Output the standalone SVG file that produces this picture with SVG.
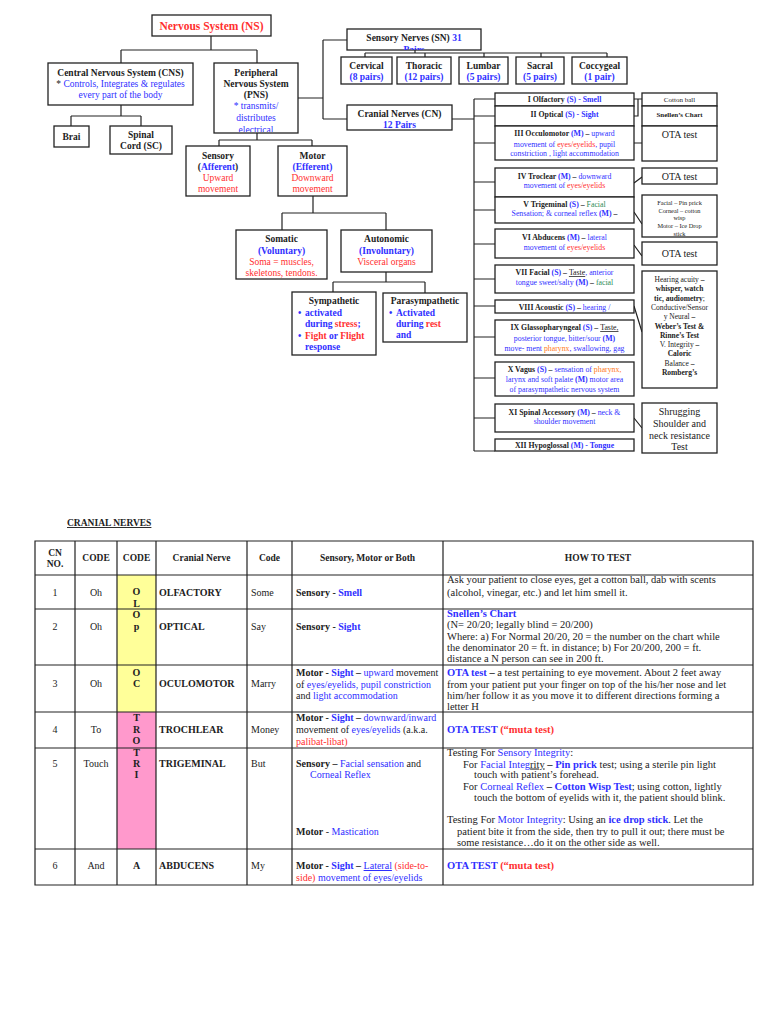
<svg xmlns="http://www.w3.org/2000/svg" width="768" height="1024" viewBox="0 0 768 1024">
<style>
text{font-family:"Liberation Serif","Times New Roman",serif;fill:#222}
.box{fill:#fff;stroke:#222;stroke-width:1.3}
.ln{fill:none;stroke:#222;stroke-width:1.2}
.tl{fill:none;stroke:#222;stroke-width:1.2}
.c{text-anchor:middle}
.b{font-weight:bold}
.f95{font-size:9.5px}
.f7{font-size:7px}
.f78{font-size:7.8px}
.f75{font-size:7.5px}
.f65{font-size:6.3px}
.f10{font-size:10px}
.f105{font-size:10.5px}
.bl{fill:#2f2fff}
.rd{fill:#ff2f2f}
.gr{fill:#2e8b57}
.or{fill:#ff7a1a}
.bk{fill:#222}
</style>
<defs>
<clipPath id="cpSN"><rect x="347" y="29" width="134" height="21"/></clipPath>
<clipPath id="cpPNS"><rect x="214" y="63" width="84" height="69"/></clipPath>
<clipPath id="cpSen"><rect x="186" y="146" width="64" height="49"/></clipPath>
<clipPath id="cpMot"><rect x="278" y="146" width="69" height="49"/></clipPath>
<clipPath id="cpV"><rect x="495" y="197" width="139" height="25"/></clipPath>
<clipPath id="cpVt"><rect x="642" y="195" width="75" height="41"/></clipPath>
</defs>
<rect width="768" height="1024" fill="#fff"/>

<g id="connectors">
<path class="ln" d="M211,36V50M121,50H257M121,50V63M257,50V63"/>
<path class="ln" d="M121,105V116M71,116H141M71,116V126M141,116V126"/>
<path class="ln" d="M298,98H323M323,40V119M323,40H347M323,119H347"/>
<path class="ln" d="M257,133V140M219,140H312M219,140V146M312,140V146"/>
<path class="ln" d="M313,196V213M282,213H386M282,213V230M386,213V230"/>
<path class="ln" d="M386,272V282M333,282H425M333,282V292M425,282V293"/>
<path class="ln" d="M415,50V53M365,53H607M365,53V57M425,53V57M484,53V57M541,53V57M607,53V57"/>
<path class="ln" d="M452,119H474M474,99V451M474,99H495M474,116H495M474,143H495M474,182H495M474,210H495M474,244H495M474,279H495M474,306H495M474,337H495M474,378H495M474,418H495M474,451H495"/>
<path class="ln" d="M634,99H642M634,116H638V99M634,143H642M634,183L642,177M634,212L642,224M634,245L642,256M634,306L642,332M634,418L642,428"/>
</g>

<g id="ns"><rect class="box" x="152" y="15" width="119" height="21"/><text class="c b rd" x="211.5" y="29.5" font-size="11.5">Nervous System (NS)</text></g>
<g id="cns"><rect class="box" x="48" y="63" width="145" height="42"/>
<text class="c f95" x="120.5" y="76"><tspan class="b">Central Nervous System (CNS)</tspan></text>
<text class="c f95" x="120.5" y="87"><tspan>* </tspan><tspan class="bl">Controls, Integrates &amp; regulates</tspan></text>
<text class="c f95 bl" x="120.5" y="98">every part of the body</text></g>
<g id="brai"><rect class="box" x="54" y="126" width="35" height="21"/><text class="c b f95" x="71.5" y="139.5">Brai</text></g>
<g id="spinal"><rect class="box" x="110" y="126" width="62" height="28"/><text class="c b f95" x="141" y="138">Spinal</text><text class="c b f95" x="141" y="149">Cord (SC)</text></g>
<g id="pns"><rect class="box" x="214" y="63" width="84" height="70"/>
<g clip-path="url(#cpPNS)">
<text class="c b f95" x="256" y="76">Peripheral</text>
<text class="c b f95" x="256" y="87">Nervous System</text>
<text class="c b f95" x="256" y="98">(PNS)</text>
<text class="c f95 bl" x="256" y="109">*  transmits/</text>
<text class="c f95 bl" x="256" y="121">distributes</text>
<text class="c f95 bl" x="256" y="132.5">electrical</text></g></g>
<g id="sensory"><rect class="box" x="186" y="146" width="64" height="50"/>
<g clip-path="url(#cpSen)">
<text class="c b f95" x="218" y="159">Sensory</text>
<text class="c b f95" x="218" y="170"><tspan class="bk">(</tspan><tspan class="bl">Afferent</tspan><tspan class="bk">)</tspan></text>
<text class="c f95 rd" x="218" y="181">Upward</text>
<text class="c f95 rd" x="218" y="192">movement</text></g></g>
<g id="motor"><rect class="box" x="278" y="146" width="69" height="50"/>
<g clip-path="url(#cpMot)">
<text class="c b f95" x="312.5" y="159">Motor</text>
<text class="c b f95 bl" x="312.5" y="170">(Efferent)</text>
<text class="c f95 rd" x="312.5" y="181">Downward</text>
<text class="c f95 rd" x="312.5" y="192">movement</text></g></g>
<g id="somatic"><rect class="box" x="236" y="230" width="91" height="49"/>
<text class="c b f95" x="281.5" y="242">Somatic</text>
<text class="c b f95 bl" x="281.5" y="254">(Voluntary)</text>
<text class="c f95 rd" x="281.5" y="265">Soma = muscles,</text>
<text class="c f95 rd" x="281.5" y="276">skeletons, tendons.</text></g>
<g id="autonomic"><rect class="box" x="341" y="230" width="91" height="42"/>
<text class="c b f95" x="386.5" y="242">Autonomic</text>
<text class="c b f95 bl" x="386.5" y="254">(Involuntary)</text>
<text class="c f95 rd" x="386.5" y="265">Visceral organs</text></g>
<g id="sympathetic"><rect class="box" x="292" y="292" width="84" height="63"/>
<text class="c b f95" x="334" y="304">Sympathetic</text>
<text class="b f95 bl" x="298" y="316">•</text><text class="b f95 bl" x="305" y="316">activated</text>
<text class="b f95" x="305" y="327"><tspan class="bl">during </tspan><tspan class="rd">stress</tspan><tspan class="bl">;</tspan></text>
<text class="b f95 bl" x="298" y="339">•</text><text class="b f95" x="305" y="339"><tspan class="rd">Fight </tspan><tspan class="bl">or </tspan><tspan class="rd">Flight</tspan></text>
<text class="b f95 bl" x="305" y="350">response</text></g>
<g id="parasympathetic"><rect class="box" x="383" y="293" width="84" height="49"/>
<text class="c b f95" x="425" y="304">Parasympathetic</text>
<text class="b f95 bl" x="389" y="316">•</text><text class="b f95 bl" x="396" y="316">Activated</text>
<text class="b f95" x="396" y="327"><tspan class="bl">during </tspan><tspan class="rd">rest</tspan></text>
<text class="b f95 bl" x="396" y="338">and</text></g>

<g id="sn"><rect class="box" x="347" y="29" width="134" height="21"/>
<g clip-path="url(#cpSN)"><text class="c b f95" x="414" y="41"><tspan>Sensory Nerves (SN) </tspan><tspan class="bl">31</tspan></text>
<text class="c b f95 bl" x="414" y="52.5">Pairs</text></g></g>
<g id="cervical"><rect class="box" x="341" y="57" width="51" height="27"/><text class="c b f95" x="366.5" y="69">Cervical</text><text class="c b f95 bl" x="366.5" y="80">(8 pairs)</text></g>
<g id="thoracic"><rect class="box" x="397" y="57" width="54" height="27"/><text class="c b f95" x="424" y="69">Thoracic</text><text class="c b f95 bl" x="424" y="80">(12 pairs)</text></g>
<g id="lumbar"><rect class="box" x="459" y="57" width="49" height="27"/><text class="c b f95" x="483.5" y="69">Lumbar</text><text class="c b f95 bl" x="483.5" y="80">(5 pairs)</text></g>
<g id="sacral"><rect class="box" x="516" y="57" width="48" height="27"/><text class="c b f95" x="540" y="69">Sacral</text><text class="c b f95 bl" x="540" y="80">(5 pairs)</text></g>
<g id="coccygeal"><rect class="box" x="572" y="57" width="55" height="27"/><text class="c b f95" x="599.5" y="69">Coccygeal</text><text class="c b f95 bl" x="599.5" y="80">(1 pair)</text></g>
<g id="cn"><rect class="box" x="347" y="105" width="105" height="25"/><text class="c b f95" x="399.5" y="117">Cranial Nerves (CN)</text><text class="c b f95 bl" x="399.5" y="128">12 Pairs</text></g>

<g id="cn1"><rect class="box" x="495" y="93" width="139" height="13"/><text class="c f78" x="564.5" y="102.3"><tspan class="b">I   Olfactory </tspan><tspan class="b bl">(S) - Smell</tspan></text></g>
<g id="cn2"><rect class="box" x="495" y="106" width="139" height="20"/><text class="c f78" x="564.5" y="116.5"><tspan class="b">II   Optical </tspan><tspan class="b bl">(S) - Sight</tspan></text></g>
<g id="cn3"><rect class="box" x="495" y="126" width="139" height="34"/>
<text class="c f78" x="564.5" y="136"><tspan class="b">III  Occulomotor </tspan><tspan class="b bl">(M)</tspan><tspan class="b"> – </tspan><tspan class="bl">upward</tspan></text>
<text class="c f78" x="564.5" y="146.5"><tspan class="bl">movement of </tspan><tspan class="rd">eyes/eyelids</tspan><tspan class="bl">, pupil</tspan></text>
<text class="c f78 bl" x="564.5" y="156">constriction , light accommodation</text></g>
<g id="cn4"><rect class="box" x="495" y="168" width="139" height="29"/>
<text class="c f78" x="564.5" y="178.5"><tspan class="b">IV  Troclear </tspan><tspan class="b bl">(M)</tspan><tspan class="b"> – </tspan><tspan class="bl">downward</tspan></text>
<text class="c f78" x="564.5" y="188"><tspan class="bl">movement of </tspan><tspan class="rd">eyes/eyelids</tspan></text></g>
<g id="cn5"><rect class="box" x="495" y="197" width="139" height="26"/>
<g clip-path="url(#cpV)">
<text class="c f78" x="564.5" y="206.5"><tspan class="b">V  Trigeminal </tspan><tspan class="b bl">(S)</tspan><tspan class="b"> – </tspan><tspan class="gr">Facial</tspan></text>
<text class="c f78" x="564.5" y="216"><tspan class="bl">Sensation; &amp; corneal reflex </tspan><tspan class="b bl">(M)</tspan><tspan class="b"> –</tspan></text></g></g>
<g id="cn6"><rect class="box" x="495" y="229" width="139" height="29"/>
<text class="c f78" x="564.5" y="240"><tspan class="b">VI  Abducens </tspan><tspan class="b bl">(M)</tspan><tspan class="b"> – </tspan><tspan class="bl">lateral</tspan></text>
<text class="c f78" x="564.5" y="249.5"><tspan class="bl">movement of </tspan><tspan class="rd">eyes/eyelids</tspan></text></g>
<g id="cn7"><rect class="box" x="495" y="265" width="139" height="28"/>
<text class="c f78" x="564.5" y="275"><tspan class="b">VII  Facial </tspan><tspan class="b bl">(S)</tspan><tspan class="b"> – </tspan><tspan text-decoration="underline">Taste</tspan><tspan class="bl">, anterior</tspan></text>
<text class="c f78" x="564.5" y="285"><tspan class="bl">tongue sweet/salty </tspan><tspan class="b bl">(M)</tspan><tspan class="b"> – </tspan><tspan class="gr">facial</tspan></text></g>
<g id="cn8"><rect class="box" x="495" y="300" width="139" height="13"/>
<text class="c f78" x="564.5" y="309.5"><tspan class="b">VIII  Acoustic </tspan><tspan class="b bl">(S)</tspan><tspan class="b"> – </tspan><tspan class="bl">hearing /</tspan></text></g>
<g id="cn9"><rect class="box" x="495" y="320" width="139" height="35"/>
<text class="c f78" x="564.5" y="330"><tspan class="b">IX  Glassopharyngeal </tspan><tspan class="b bl">(S)</tspan><tspan class="b"> – </tspan><tspan text-decoration="underline">Taste,</tspan></text>
<text class="c f78" x="564.5" y="340.5"><tspan class="bl">posterior tongue, bitter/sour </tspan><tspan class="b bl">(M)</tspan></text>
<text class="c f78" x="564.5" y="351"><tspan class="bl">move- ment </tspan><tspan class="or">pharynx</tspan><tspan class="bl">, swallowing, gag</tspan></text></g>
<g id="cn10"><rect class="box" x="495" y="362" width="139" height="34"/>
<text class="c f78" x="564.5" y="371.5"><tspan class="b">X  Vagus </tspan><tspan class="b bl">(S)</tspan><tspan class="b"> – </tspan><tspan class="bl">sensation of </tspan><tspan class="or">pharynx,</tspan></text>
<text class="c f78" x="564.5" y="381.5"><tspan class="bl">larynx and soft palate </tspan><tspan class="b bl">(M)</tspan><tspan class="bl"> motor area</tspan></text>
<text class="c f78 bl" x="564.5" y="391.5">of parasympathetic nervous system</text></g>
<g id="cn11"><rect class="box" x="495" y="404" width="139" height="28"/>
<text class="c f78" x="564.5" y="414.5"><tspan class="b">XI   Spinal Accessory </tspan><tspan class="b bl">(M)</tspan><tspan class="b"> – </tspan><tspan class="bl">neck &amp;</tspan></text>
<text class="c f78 bl" x="564.5" y="424">shoulder movement</text></g>
<g id="cn12"><rect class="box" x="495" y="439" width="139" height="12"/>
<text class="c f78" x="564.5" y="447.8"><tspan class="b">XII  Hypoglossal </tspan><tspan class="b bl">(M) - Tongue</tspan></text></g>

<g id="t1"><rect class="box" x="642" y="93" width="75" height="13"/><text class="c f7" x="679.5" y="102">Cotton ball</text></g>
<g id="t2"><rect class="box" x="642" y="106" width="75" height="20"/><text class="c f7 b" x="679.5" y="116.5">Snellen’s Chart</text></g>
<g id="t3"><rect class="box" x="642" y="126" width="75" height="35"/><text class="c f10" x="679.5" y="138">OTA test</text></g>
<g id="t4"><rect class="box" x="642" y="168" width="75" height="16"/><text class="c f10" x="679.5" y="179.5">OTA test</text></g>
<g id="t5"><rect class="box" x="642" y="195" width="75" height="42"/>
<g clip-path="url(#cpVt)">
<text class="c f65" x="679.5" y="205">Facial – Pin prick</text>
<text class="c f65" x="679.5" y="212.5">Corneal – cotton</text>
<text class="c f65" x="679.5" y="220">wisp</text>
<text class="c f65" x="679.5" y="227.5">Motor – Ice Drop</text>
<text class="c f65" x="679.5" y="235.5">stick</text></g></g>
<g id="t6"><rect class="box" x="642" y="242" width="75" height="23"/><text class="c f10" x="679.5" y="257">OTA test</text></g>
<g id="t8"><rect class="box" x="642" y="271" width="75" height="117"/>
<text class="c f75" x="679.5" y="282">Hearing acuity <tspan class="b">–</tspan></text>
<text class="c f75 b" x="679.5" y="291.3">whisper, watch</text>
<text class="c f75" x="679.5" y="300.6"><tspan class="b">tic, audiometry</tspan>;</text>
<text class="c f75" x="679.5" y="309.9">Conductive/Sensor</text>
<text class="c f75" x="679.5" y="319.2">y Neural <tspan class="b">–</tspan></text>
<text class="c f75 b" x="679.5" y="328.5">Weber’s Test &amp;</text>
<text class="c f75 b" x="679.5" y="337.8">Rinne’s Test</text>
<text class="c f75" x="679.5" y="347.1">V. Integrity <tspan class="b">–</tspan></text>
<text class="c f75 b" x="679.5" y="356.4">Caloric</text>
<text class="c f75" x="679.5" y="365.7">Balance <tspan class="b">–</tspan></text>
<text class="c f75 b" x="679.5" y="375">Romberg’s</text></g>
<g id="t11"><rect class="box" x="642" y="403" width="75" height="50"/>
<text class="c f10" x="679.5" y="414.5">Shrugging</text>
<text class="c f10" x="679.5" y="426.5">Shoulder and</text>
<text class="c f10" x="679.5" y="439">neck resistance</text>
<text class="c f10" x="679.5" y="449.5">Test</text></g>

<g id="table">
<text class="b" x="67" y="526" font-size="9.5" text-decoration="underline">CRANIAL NERVES</text>
<rect x="117" y="575" width="39" height="137" fill="#ffff99"/>
<rect x="117" y="712" width="39" height="137" fill="#ff99cc"/>
<path class="tl" d="M35,541H753V885H35ZM35,575H753M35,609H753M35,665H753M35,712H753M35,748H753M35,849H753M75,541V885M117,541V885M156,541V885M247,541V885M292,541V885M443,541V885"/>
<g class="f95 b">
<text class="c" x="55" y="556">CN</text><text class="c" x="55" y="567">NO.</text>
<text class="c" x="96" y="561">CODE</text><text class="c" x="136.5" y="561">CODE</text>
<text class="c" x="201.5" y="561">Cranial Nerve</text><text class="c" x="269.5" y="561">Code</text>
<text class="c" x="367.5" y="561">Sensory, Motor or Both</text><text class="c" x="598" y="561">HOW TO TEST</text>
</g>
<g class="f10">
<text class="c" x="55" y="596">1</text><text class="c" x="96" y="596">Oh</text>
<text class="c b" x="136.5" y="595">O</text><text class="c b" x="136.5" y="607">L</text>
<text class="b" x="159" y="596">OLFACTORY</text><text x="251" y="596">Some</text>
<text x="296" y="596"><tspan class="b">Sensory - </tspan><tspan class="b bl">Smell</tspan></text>

<text class="c" x="55" y="630">2</text><text class="c" x="96" y="630">Oh</text>
<text class="c b" x="136.5" y="618">O</text><text class="c b" x="136.5" y="630">p</text>
<text class="b" x="159" y="630">OPTICAL</text><text x="251" y="630">Say</text>
<text x="296" y="630"><tspan class="b">Sensory - </tspan><tspan class="b bl">Sight</tspan></text>

<text class="c" x="55" y="687">3</text><text class="c" x="96" y="687">Oh</text>
<text class="c b" x="136.5" y="676">O</text><text class="c b" x="136.5" y="687">C</text>
<text class="b" x="159" y="687">OCULOMOTOR</text><text x="251" y="687">Marry</text>
<text x="296" y="676"><tspan class="b">Motor - </tspan><tspan class="b bl">Sight</tspan><tspan class="b"> – </tspan><tspan class="bl">upward</tspan> movement</text>
<text x="296" y="687.5">of <tspan class="bl">eyes/eyelids, pupil constriction</tspan></text>
<text x="296" y="699">and <tspan class="bl">light accommodation</tspan></text>

<text class="c" x="55" y="733">4</text><text class="c" x="96" y="733">To</text>
<text class="c b" x="136.5" y="721">T</text><text class="c b" x="136.5" y="733">R</text><text class="c b" x="136.5" y="744">O</text>
<text class="b" x="159" y="733">TROCHLEAR</text><text x="251" y="733">Money</text>
<text x="296" y="721"><tspan class="b">Motor - </tspan><tspan class="b bl">Sight</tspan><tspan class="b"> – </tspan><tspan class="bl">downward/inward</tspan></text>
<text x="296" y="733">movement of <tspan class="bl">eyes/eyelids</tspan> (a.k.a.</text>
<text x="296" y="744.5" class="rd">palibat-libat)</text>

<text class="c" x="55" y="767">5</text><text class="c" x="96" y="767">Touch</text>
<text class="c b" x="136.5" y="756">T</text><text class="c b" x="136.5" y="767">R</text><text class="c b" x="136.5" y="778">I</text>
<text class="b" x="159" y="767">TRIGEMINAL</text><text x="251" y="767">But</text>
<text x="296" y="767"><tspan class="b">Sensory – </tspan><tspan class="bl">Facial sensation</tspan> and</text>
<text x="310" y="778" class="bl">Corneal Reflex</text>
<text x="296" y="834.5"><tspan class="b">Motor</tspan> - <tspan class="bl">Mastication</tspan></text>

<text class="c" x="55" y="869">6</text><text class="c" x="96" y="869">And</text>
<text class="c b" x="136.5" y="869">A</text>
<text class="b" x="159" y="869">ABDUCENS</text><text x="251" y="869">My</text>
<text x="296" y="869"><tspan class="b">Motor - </tspan><tspan class="b bl">Sight</tspan><tspan class="b"> – </tspan><tspan class="bl" text-decoration="underline">Lateral</tspan><tspan class="rd"> (side-to-</tspan></text>
<text x="296" y="881"><tspan class="rd">side)</tspan><tspan class="bl"> movement of eyes/eyelids</tspan></text>
</g>
<g class="f105">
<text x="447" y="583">Ask your patient to close eyes, get a cotton ball, dab with scents</text>
<text x="447" y="596">(alcohol, vinegar, etc.) and let him smell it.</text>
<text class="b bl" x="447" y="617">Snellen’s Chart</text>
<text x="447" y="628">(N= 20/20; legally blind = 20/200)</text>
<text x="447" y="639.5">Where: a) For Normal 20/20, 20 = the number on the chart while</text>
<text x="447" y="651">the denominator 20 = ft. in distance; b) For 20/200, 200 = ft.</text>
<text x="447" y="662">distance a N person can see in 200 ft.</text>
<text x="447" y="676"><tspan class="b bl">OTA test</tspan><tspan class="b"> – </tspan>a test pertaining to eye movement. About 2 feet away</text>
<text x="447" y="687.5">from your patient put your finger on top of the his/her nose and let</text>
<text x="447" y="699">him/her follow it as you move it to different directions forming a</text>
<text x="447" y="709.5">letter H</text>
<text x="447" y="733"><tspan class="b bl">OTA TEST </tspan><tspan class="b rd">(“muta test)</tspan></text>
<text x="447" y="756">Testing For <tspan class="bl">Sensory Integrity</tspan>:</text>
<text x="463" y="767.5">For <tspan class="bl">Facial Integ</tspan><tspan text-decoration="underline">rity</tspan><tspan class="b"> – </tspan><tspan class="b bl">Pin prick</tspan> test; using a sterile pin light</text>
<text x="474" y="778">touch with patient’s forehead.</text>
<text x="463" y="789.5">For <tspan class="bl">Corneal Reflex</tspan><tspan class="b"> – </tspan><tspan class="b bl">Cotton Wisp Test</tspan>; using cotton, lightly</text>
<text x="474" y="800.5">touch the bottom of eyelids with it, the patient should blink.</text>
<text x="447" y="823">Testing For <tspan class="bl">Motor Integrity</tspan>: Using an <tspan class="b bl">ice drop stick</tspan>. Let the</text>
<text x="457" y="834.5">patient bite it from the side, then try to pull it out; there must be</text>
<text x="457" y="845.5">some resistance…do it on the other side as well.</text>
<text x="447" y="869"><tspan class="b bl">OTA TEST </tspan><tspan class="b rd">(“muta test)</tspan></text>
</g>
</g>
</svg>
